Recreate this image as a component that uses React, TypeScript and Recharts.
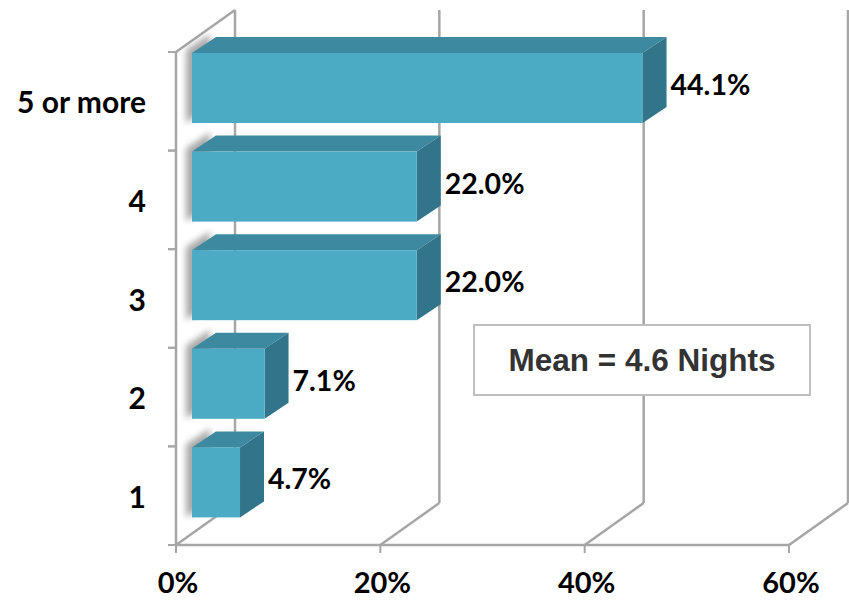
import React from "react";
import { BarChart, Bar, XAxis, YAxis, CartesianGrid, LabelList } from "recharts";

const categories = ["1", "2", "3", "4", "5 or more"];
const shares = [4.7, 7.1, 22.0, 22.0, 44.1];
const xTicks = [0, 20, 40, 60];
const meanText = "Mean = 4.6 Nights";

const data = categories.map((label, i) => ({ label, value: shares[i] }));

const W = 849;
const H = 600;
const TOP = 52;
const RIGHT = 60;
const AXIS_W = 176;
const AXIS_H = 55;
const BAND = (H - TOP - AXIS_H) / categories.length;

// 3D offsets (px): back wall depth, bar front depth, bar thickness
const WALL_DX = 59;
const WALL_DY = 42;
const BAR_DX = 16;
const BAR_DY = 13;
const BOX_DX = 24;
const BOX_DY = 16;

const GRID = "#a6a6a6";
const FRONT = "#4babc5";
const TOPFACE = "#3d8aa0";
const SIDE = "#32758a";
const FONT = "Lato, 'Open Sans', sans-serif";

const WallLine = (p: any) => {
  const { x1, y1, y2, index } = p;
  return (
    <g key={p.key}>
      <line x1={x1} y1={y2} x2={x1 + WALL_DX} y2={y2 - WALL_DY} stroke={GRID} strokeWidth={2.5} />
      <line
        x1={x1 + WALL_DX}
        y1={y1 - WALL_DY}
        x2={x1 + WALL_DX}
        y2={y2 - WALL_DY}
        stroke={GRID}
        strokeWidth={2.5}
      />
      {index === 0 && (
        <line x1={x1} y1={y1} x2={x1 + WALL_DX} y2={y1 - WALL_DY} stroke={GRID} strokeWidth={2.5} />
      )}
    </g>
  );
};

const XTick = (p: any) => {
  const { x, y, payload } = p;
  return (
    <text x={x + 2} y={y + 38} textAnchor="middle" fontFamily={FONT} fontWeight={700} fontSize={29} fill="#000">
      {payload.value}%
    </text>
  );
};

const YTick = (p: any) => {
  const { x, y, payload } = p;
  const ax = x + 30;
  return (
    <g>
      <line x1={ax - 8} y1={y - BAND / 2} x2={ax} y2={y - BAND / 2} stroke={GRID} strokeWidth={2} />
      <line x1={ax - 8} y1={y + BAND / 2} x2={ax} y2={y + BAND / 2} stroke={GRID} strokeWidth={2} />
      <text x={x} y={y + 12} textAnchor="end" fontFamily={FONT} fontWeight={700} fontSize={30} fill="#000">
        {payload.value}
      </text>
    </g>
  );
};

const Box3D = (p: any) => {
  const { x, y, width, height, index } = p;
  const fx = x + BAR_DX;
  const fy = y - BAR_DY;
  const w = width;
  const h = height;
  const id = `wallShadow${index}`;
  const sx = fx - 6;
  const sy = fy - 3;
  return (
    <g>
      <defs>
        <filter id={id} x="-100%" y="-50%" width="300%" height="200%">
          <feGaussianBlur stdDeviation={3} />
        </filter>
      </defs>
      <polygon
        points={`${sx},${sy} ${sx + BOX_DX},${sy - BOX_DY} ${sx + BOX_DX},${fy + h - BOX_DY} ${sx},${fy + h}`}
        fill="#7a7a7a"
        opacity={0.65}
        filter={`url(#${id})`}
      />
      <polygon
        points={`${fx},${fy} ${fx + BOX_DX},${fy - BOX_DY} ${fx + w + BOX_DX},${fy - BOX_DY} ${fx + w},${fy}`}
        fill={TOPFACE}
      />
      <polygon
        points={`${fx + w},${fy} ${fx + w + BOX_DX},${fy - BOX_DY} ${fx + w + BOX_DX},${fy + h - BOX_DY} ${fx + w},${fy + h}`}
        fill={SIDE}
      />
      <rect x={fx} y={fy} width={w} height={h} fill={FRONT} />
    </g>
  );
};

const ValueLabel = (p: any) => {
  const { x, y, width, height, value } = p;
  return (
    <text
      x={x + width + BAR_DX + BOX_DX + 4}
      y={y - BAR_DY + height / 2 + 7}
      fontFamily={FONT}
      fontWeight={700}
      fontSize={28.5}
      fill="#000"
    >
      {Number(value).toFixed(1)}%
    </text>
  );
};

export default function App() {
  return (
    <div style={{ position: "absolute", left: 0, top: 0, width: W, height: H, background: "#fff" }}>
      <BarChart
        width={W}
        height={H}
        data={data}
        layout="vertical"
        margin={{ top: TOP, right: RIGHT, bottom: 0, left: 0 }}
      >
        <CartesianGrid horizontal={false} vertical={WallLine} />
        <XAxis
          type="number"
          domain={[0, 60]}
          ticks={xTicks}
          interval={0}
          height={AXIS_H}
          axisLine={{ stroke: GRID, strokeWidth: 2.5 }}
          tickLine={{ stroke: GRID, strokeWidth: 2 }}
          tickSize={8}
          tick={<XTick />}
        />
        <YAxis
          type="category"
          dataKey="label"
          reversed
          interval={0}
          width={AXIS_W}
          axisLine={{ stroke: GRID, strokeWidth: 2.5 }}
          tickLine={false}
          tickSize={8}
          tickMargin={22}
          tick={<YTick />}
        />
        <Bar dataKey="value" barSize={70} shape={Box3D} isAnimationActive={false}>
          <LabelList dataKey="value" content={ValueLabel} />
        </Bar>
      </BarChart>

      {/* mean annotation */}
      <div
        style={{
          position: "absolute",
          left: 473,
          top: 324,
          width: 338,
          height: 72,
          boxSizing: "border-box",
          border: "2px solid #bfbfbf",
          background: "#fff",
          display: "flex",
          alignItems: "center",
          justifyContent: "center",
          fontFamily: "'Liberation Sans', Arial, sans-serif",
          fontWeight: 700,
          fontSize: 31.5,
          color: "#333",
        }}
      >
        {meanText}
      </div>
    </div>
  );
}
